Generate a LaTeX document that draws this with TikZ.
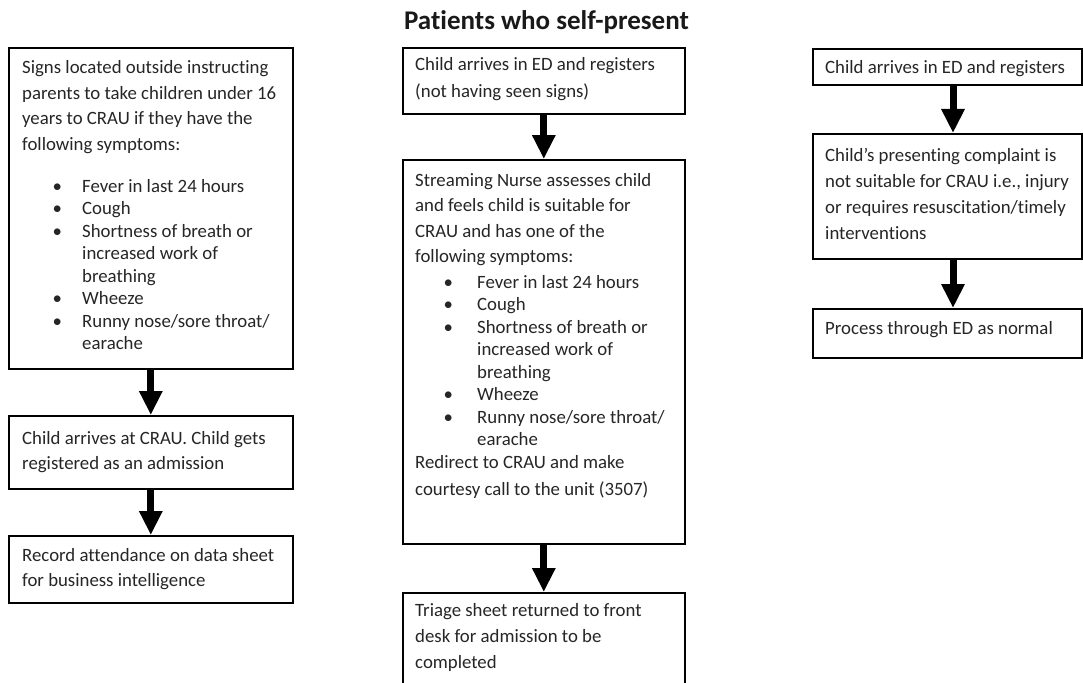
\documentclass[tikz,border=0pt]{standalone}
\usepackage{fontspec}
\setmainfont{Carlito}[Ligatures=NoCommon]
\usetikzlibrary{arrows.meta}
\newcommand\bulL[1]{\hspace*{30.5pt}\makebox[29.5pt][l]{\textbullet}#1}
\newcommand\conL[1]{\hspace*{60pt}#1}
\newcommand\bulM[1]{\hspace*{28.5pt}\makebox[33.5pt][l]{\textbullet}#1}
\newcommand\conM[1]{\hspace*{62pt}#1}
\tikzset{
  box/.style={draw=black, line width=1.6pt, fill=white, inner sep=0pt, anchor=north west},
  txt/.style={anchor=base west, inner sep=0pt, font=\fontsize{18.8}{25.5}\selectfont, text=black!85},
  flow/.style={line width=7pt, -{Triangle[width=22pt,length=24pt]}},
  ttl/.style={anchor=base, inner sep=0pt, font=\fontsize{27}{32}\selectfont\bfseries, text=black!90}
}
\begin{document}
\begin{tikzpicture}[x=1pt,y=-1pt]
\useasboundingbox (0,0) rectangle (1083,682);
\clip (0,0) rectangle (1083,682);
\fill[white] (0,0) rectangle (1083,682);
% title
\node[ttl] (title) at (546.5,30) {Patients who self-present};
% left column boxes
\node[box, minimum width=284pt, minimum height=321pt] (L1) at (8,47) {};
\node[box, minimum width=284pt, minimum height=73pt] (L2) at (8,415) {};
\node[box, minimum width=284pt, minimum height=67pt] (L3) at (8,535) {};
% middle column boxes
\node[box, minimum width=282pt, minimum height=66pt] (M1) at (402,47) {};
\node[box, minimum width=282pt, minimum height=384pt] (M2) at (402,159) {};
\node[box, minimum width=282pt, minimum height=96pt] (M3) at (402,592) {};
% right column boxes
\node[box, minimum width=269pt, minimum height=36pt] (R1) at (812,48) {};
\node[box, minimum width=269pt, minimum height=125pt] (R2) at (812,133) {};
\node[box, minimum width=269pt, minimum height=49pt] (R3) at (812,308) {};
% texts
\node[txt] (tL1) at (22,74) {\begin{tabular}[t]{@{}l@{}}
Signs located outside instructing\\
parents to take children under 16\\
years to CRAU if they have the\\
following symptoms:\\[16.5pt]
\bulL{Fever in last 24 hours}\\[-3pt]
\bulL{Cough}\\[-3pt]
\bulL{Shortness of breath or}\\[-3pt]
\conL{increased work of}\\[-3pt]
\conL{breathing}\\[-3pt]
\bulL{Wheeze}\\[-3pt]
\bulL{Runny nose/sore throat/}\\[-3pt]
\conL{earache}
\end{tabular}};
\node[txt] (tL2) at (22,444) {\begin{tabular}[t]{@{}l@{}}
Child arrives at CRAU. Child gets\\
registered as an admission
\end{tabular}};
\node[txt] (tL3) at (22,561) {\begin{tabular}[t]{@{}l@{}}
Record attendance on data sheet\\
for business intelligence
\end{tabular}};
\node[txt] (tM1) at (415,71) {\begin{tabular}[t]{@{}l@{}}
Child arrives in ED and registers\\[1pt]
(not having seen signs)
\end{tabular}};
\node[txt] (tM2) at (415,186) {\begin{tabular}[t]{@{}l@{}}
Streaming Nurse assesses child\\
and feels child is suitable for\\
CRAU and has one of the\\
following symptoms:\\
\bulM{Fever in last 24 hours}\\[-3pt]
\bulM{Cough}\\[-3pt]
\bulM{Shortness of breath or}\\[-3pt]
\conM{increased work of}\\[-3pt]
\conM{breathing}\\[-3pt]
\bulM{Wheeze}\\[-3pt]
\bulM{Runny nose/sore throat/}\\[-3pt]
\conM{earache}\\[-2.5pt]
Redirect to CRAU and make\\[1pt]
courtesy call to the unit (3507)
\end{tabular}};
\node[txt] (tM3) at (415,616) {\begin{tabular}[t]{@{}l@{}}
Triage sheet returned to front\\[0.5pt]
desk for admission to be\\[0.5pt]
completed
\end{tabular}};
\node[txt] (tR1) at (825,74) {Child arrives in ED and registers};
\node[txt] (tR2) at (825,161) {\begin{tabular}[t]{@{}l@{}}
Child’s presenting complaint is\\[0.5pt]
not suitable for CRAU i.e., injury\\[0.5pt]
or requires resuscitation/timely\\[0.5pt]
interventions
\end{tabular}};
\node[txt] (tR3) at (825,334) {Process through ED as normal};
% arrows
\coordinate (ax) at (953,0);
\draw[flow] (L1.south) -- (L2.north);
\draw[flow] (L2.south) -- (L3.north);
\draw[flow] (M1.south) -- (M2.north);
\draw[flow] (M2.south) -- (M3.north);
\draw[flow] (R1.south -| ax) -- (R2.north -| ax);
\draw[flow] (R2.south -| ax) -- (R3.north -| ax);
\end{tikzpicture}
\end{document}
